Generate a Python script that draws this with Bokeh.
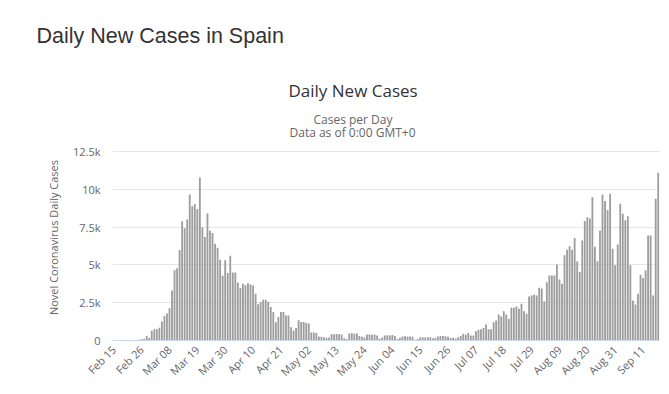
import math
import pandas as pd
from bokeh.plotting import figure
from bokeh.models import Title, FixedTicker, ColumnDataSource, Range1d, DatetimeTickFormatter
from bokeh.embed import file_html
from bokeh.resources import INLINE

start_date = "2020-02-15"
daily_cases = [
    0, 0, 0, 1, 0, 0, 2, 3, 8, 35,
    55, 90, 120, 290, 180, 650, 740, 740, 850, 1250,
    1620, 1790, 2130, 3310, 4650, 4780, 5990, 7880, 7430, 8010,
    9660, 8880, 9020, 8690, 10780, 7490, 6850, 8400, 7260, 7110,
    6400, 6140, 5340, 4280, 5300, 4460, 5610, 4500, 4500, 3840,
    3480, 3760, 3650, 3780, 3700, 3640, 3090, 2400, 2540, 2690,
    2690, 2560, 2210, 1880, 1210, 1550, 1880, 1880, 1660, 1660,
    880, 660, 820, 1340, 1220, 1230, 1150, 1120, 530, 530,
    490, 260, 240, 220, 180, 200, 420, 420, 430, 420,
    400, 150, 100, 460, 480, 450, 460, 300, 250, 200,
    400, 420, 380, 400, 330, 120, 200, 330, 350, 330,
    360, 300, 100, 180, 270, 280, 250, 260, 240, 50,
    100, 220, 220, 200, 220, 220, 150, 180, 260, 290,
    290, 280, 250, 160, 180, 130, 220, 290, 440, 380,
    490, 330, 330, 620, 710, 750, 820, 1060, 750, 750,
    1210, 1320, 1720, 1590, 1940, 1720, 1430, 2160, 2160, 2250,
    2100, 2430, 1940, 1770, 2910, 2980, 3050, 2980, 3490, 3440,
    2580, 3860, 4300, 4300, 4300, 5030, 4040, 3750, 5630, 6000,
    6230, 6000, 6780, 5230, 4530, 6620, 7900, 8150, 8070, 9470,
    6200, 5240, 7280, 9660, 9230, 8630, 9710, 6060, 4980, 6350,
    9050, 8390, 7950, 8210, 4970, 2650, 2380, 3090, 4350, 4130,
    4640, 6950, 6950, 2980, 9380, 11100,
]
y_ticks = [0, 2500, 5000, 7500, 10000, 12500]
y_tick_labels = ["0", "2.5k", "5k", "7.5k", "10k", "12.5k"]
x_tick_every = 11

page_title = "Daily New Cases in Spain"
chart_title = "Daily New Cases"
subtitle_1 = "Cases per Day"
subtitle_2 = "Data as of 0:00 GMT+0"
y_axis_title = "Novel Coronavirus Daily Cases"

dates = pd.date_range(start_date, periods=len(daily_cases), freq="D")
src = ColumnDataSource(dict(date=dates, cases=daily_cases))

# layout (pixels)
W, H = 669, 394
frame_left, frame_right = 112, 659
frame_top, frame_bottom = 134, 340
grid_top_px = 151  # where 12.5k sits
y_max = y_ticks[-1] * (frame_bottom - frame_top) / (frame_bottom - grid_top_px)

half_day = pd.Timedelta(hours=12)
p = figure(
    width=W, height=H, output_backend="svg", toolbar_location=None,
    x_axis_type="datetime",
    x_range=Range1d((dates[0] - half_day).to_pydatetime(), (dates[-1] + half_day).to_pydatetime()),
    y_range=Range1d(0, y_max),
    min_border_left=frame_left, min_border_right=W - frame_right,
    min_border_top=frame_top, min_border_bottom=H - frame_bottom,
)
p.outline_line_color = None
p.background_fill_color = "white"
p.border_fill_color = "white"

p.vbar(x="date", top="cases", width=0.72 * 86400000, source=src,
       fill_color="#9d9d9d", line_color=None)

# axes
ms_ticks = [int(d.timestamp() * 1000) for d in dates[::x_tick_every]]
xa = p.xaxis[0]
xa.ticker = FixedTicker(ticks=ms_ticks)
fmt = "%b %d"
xa.formatter = DatetimeTickFormatter(microseconds=fmt, milliseconds=fmt, seconds=fmt, minsec=fmt,
                                     minutes=fmt, hourmin=fmt, hours=fmt, days=fmt, months=fmt, years=fmt)
xa.major_label_orientation = math.pi / 4
xa.major_label_text_font = "Open Sans"
xa.major_label_text_font_size = "11px"
xa.major_label_text_color = "#666666"
xa.major_label_standoff = 7
xa.major_tick_out = 0
xa.major_tick_in = 0
xa.minor_tick_out = 0
xa.minor_tick_in = 0
xa.axis_line_color = "#ccd6eb"

ya = p.yaxis[0]
ya.ticker = FixedTicker(ticks=y_ticks)
ya.major_label_overrides = {t: l for t, l in zip(y_ticks, y_tick_labels)}
ya.major_label_text_font = "Open Sans"
ya.major_label_text_font_size = "11px"
ya.major_label_text_color = "#666666"
ya.major_label_standoff = 12
ya.major_tick_out = 0
ya.major_tick_in = 0
ya.minor_tick_out = 0
ya.minor_tick_in = 0
ya.axis_line_color = None
ya.axis_label = y_axis_title
ya.axis_label_text_font = "Open Sans"
ya.axis_label_text_font_size = "11px"
ya.axis_label_text_font_style = "normal"
ya.axis_label_text_color = "#666666"
ya.axis_label_standoff = 9

p.xgrid.visible = False
p.ygrid.grid_line_color = "#e6e6e6"
p.ygrid.grid_line_width = 1

# titles, stacked outward from the frame (first added is nearest)
def add_title(text, font, size, color, offset, standoff, valign="bottom"):
    p.add_layout(Title(text=text, align="left", offset=offset, standoff=standoff,
                       vertical_align=valign, text_font=font, text_font_size=size,
                       text_font_style="normal", text_color=color), "above")

add_title(subtitle_2, "Open Sans", "12px", "#666666", 177, -12)
add_title(subtitle_1, "Open Sans", "12px", "#666666", 201, 0)
add_title(chart_title, "Open Sans", "17px", "#333333", 176, 13)
add_title(page_title, "Liberation Sans", "21.5px", "#333333", -76, 42, "top")

open("out.html", "w").write(file_html(p, INLINE))
